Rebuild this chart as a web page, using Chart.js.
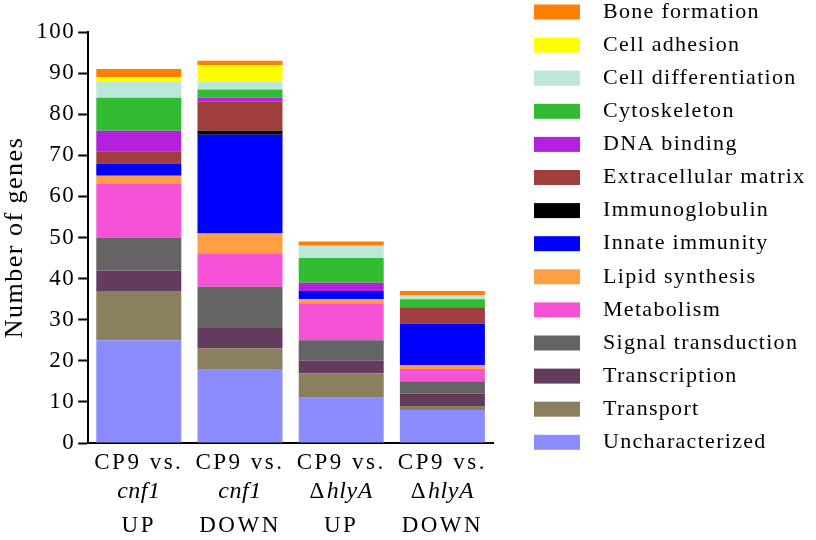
<!DOCTYPE html>
<html>
<head>
<meta charset="utf-8">
<script src="https://cdn.jsdelivr.net/npm/chart.js@4"></script>
<style>
  body { margin: 0; background: #fff; }
  #wrap { width: 816px; height: 540px; }
</style>
</head>
<body>
<div id="wrap"><canvas id="graficoGenes"></canvas></div>
<script>
// Categorias (rótulos do eixo X, três linhas cada)
const linha1 = ['CP9 vs.', 'CP9 vs.', 'CP9 vs.', 'CP9 vs.'];
const linha2 = ['cnf1', 'cnf1', 'ΔhlyA', 'ΔhlyA'];
const linha3 = ['UP', 'DOWN', 'UP', 'DOWN'];

// Número de genes por categoria funcional (de baixo para cima na pilha)
const uncharacterized = [25, 18, 11, 8];
const transport = [12, 5, 6, 1];
const transcription = [5, 5, 3, 3];
const signalTransduction = [8, 10, 5, 3];
const metabolism = [13, 8, 9, 3];
const lipidSynthesis = [2, 5, 1, 1];
const innateImmunity = [3, 24, 2, 10];
const immunoglobulin = [0, 1, 0, 0];
const extracellularMatrix = [3, 7, 0, 4];
const dnaBinding = [5, 1, 2, 0];
const cytoskeleton = [8, 2, 6, 2];
const cellDifferentiation = [4, 2, 3, 1];
const cellAdhesion = [1, 4, 0, 0];
const boneFormation = [2, 1, 1, 1];

const yTicks = [0, 10, 20, 30, 40, 50, 60, 70, 80, 90, 100];

const fonte = "'Liberation Serif', 'Times New Roman', serif";

function serie(label, data, cor) {
  return { label: label, data: data, backgroundColor: cor, borderWidth: 0 };
}

const dados = {
  labels: linha1.map((l, i) => l + ' ' + linha2[i] + ' ' + linha3[i]),
  datasets: [
    serie('Uncharacterized', uncharacterized, '#8C8CFF'),
    serie('Transport', transport, '#8A8060'),
    serie('Transcription', transcription, '#633B5C'),
    serie('Signal transduction', signalTransduction, '#646464'),
    serie('Metabolism', metabolism, '#F552D8'),
    serie('Lipid synthesis', lipidSynthesis, '#FF9F45'),
    serie('Innate immunity', innateImmunity, '#0000FF'),
    serie('Immunoglobulin', immunoglobulin, '#000000'),
    serie('Extracellular matrix', extracellularMatrix, '#A03D3D'),
    serie('DNA binding', dnaBinding, '#B420DC'),
    serie('Cytoskeleton', cytoskeleton, '#33BB33'),
    serie('Cell differentiation', cellDifferentiation, '#BBE8D8'),
    serie('Cell adhesion', cellAdhesion, '#FFFF00'),
    serie('Bone formation', boneFormation, '#FF8000')
  ]
};

// Espaçamento entre letras (o original tem texto bem espaçado)
const espacamento = {
  id: 'espacamento',
  beforeUpdate(chart) { chart.ctx.letterSpacing = '1.5px'; },
  beforeDraw(chart) { chart.ctx.letterSpacing = '1.5px'; }
};

// Rótulos do eixo X desenhados à mão (linha do meio em itálico)
const rotulosX = {
  id: 'rotulosX',
  afterDraw(chart) {
    const ctx = chart.ctx;
    const x = chart.scales.x;
    ctx.save();
    ctx.fillStyle = '#000';
    ctx.textBaseline = 'middle';
    ctx.textAlign = 'left';
    const estilo = (p) => {
      ctx.font = (p.it ? 'italic 24px ' : '23px ') + fonte;
      ctx.letterSpacing = p.it ? '0.5px' : '2.5px';
    };
    for (let i = 0; i < linha1.length; i++) {
      const cx = x.getPixelForValue(i);
      const linhas = [
        [{ t: linha1[i], it: false }],
        linha2[i].startsWith('Δ')
          ? [{ t: 'Δ', it: false }, { t: linha2[i].slice(1), it: true }]
          : [{ t: linha2[i], it: true }],
        [{ t: linha3[i], it: false }]
      ];
      const ys = [463, 492, 526];
      linhas.forEach((partes, k) => {
        let w = 0;
        partes.forEach(p => { estilo(p); w += ctx.measureText(p.t).width; });
        let px = cx - w / 2;
        partes.forEach(p => {
          estilo(p);
          ctx.fillText(p.t, px, ys[k]);
          px += ctx.measureText(p.t).width;
        });
      });
    }
    ctx.restore();
  }
};

// Legenda à direita, de cima (Bone formation) para baixo (Uncharacterized)
const legenda = {
  id: 'legenda',
  afterDraw(chart) {
    const ctx = chart.ctx;
    const itens = chart.data.datasets.slice().reverse();
    ctx.save();
    ctx.letterSpacing = '1.3px';
    ctx.font = '22px ' + fonte;
    ctx.textBaseline = 'middle';
    ctx.textAlign = 'left';
    itens.forEach((ds, i) => {
      const y = 12 + i * 33.1;
      ctx.fillStyle = ds.backgroundColor;
      ctx.fillRect(534, y - 7.5, 46, 15);
      ctx.fillStyle = '#000';
      ctx.fillText(ds.label, 603, y);
    });
    ctx.restore();
  }
};

const config = {
  type: 'bar',
  data: dados,
  options: {
    responsive: true,
    maintainAspectRatio: false,
    animation: false,
    layout: { padding: { top: 32, bottom: 89, left: 0, right: 323 } },
    datasets: { bar: { barPercentage: 0.84, categoryPercentage: 1 } },
    plugins: {
      legend: { display: false },
      tooltip: { enabled: false }
    },
    scales: {
      x: {
        stacked: true,
        ticks: { display: false },
        grid: { display: false },
        border: { display: true, color: '#000', width: 2 }
      },
      y: {
        stacked: true,
        min: 0,
        max: 100,
        afterBuildTicks: (axis) => { axis.ticks = yTicks.map(v => ({ value: v })); },
        ticks: {
          color: '#000',
          padding: 3,
          font: { family: fonte, size: 23 }
        },
        grid: {
          display: true,
          drawOnChartArea: false,
          drawTicks: true,
          tickLength: 10,
          tickWidth: 2,
          color: '#000'
        },
        border: { display: true, color: '#000', width: 2 },
        title: {
          display: true,
          text: 'Number of genes',
          color: '#000',
          padding: { top: 0, bottom: 2 },
          font: { family: fonte, size: 26 }
        }
      }
    }
  },
  plugins: [espacamento, rotulosX, legenda]
};

const graficoGenes = new Chart(document.getElementById('graficoGenes').getContext('2d'), config);
</script>
</body>
</html>
